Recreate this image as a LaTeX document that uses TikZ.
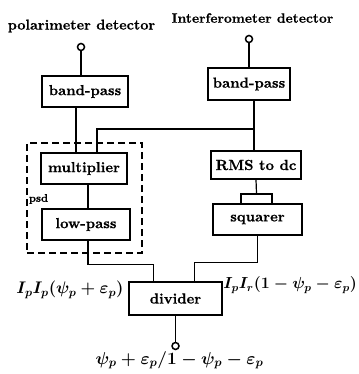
\RequirePackage{fix-cm}
\documentclass[tikz,border=0pt]{standalone}
\usepackage{amsmath,bm}
\usepackage{fontspec}
\setmainfont{lmroman10-regular}[Extension=.otf,BoldFont=lmroman10-bold,
  ItalicFont=lmroman10-italic,BoldItalicFont=lmroman10-bolditalic,
  BoldFeatures={FakeBold=0.6}]
\begin{document}
\begin{tikzpicture}[x=1pt,y=-1pt,
  blk/.style={draw,line width=1.6pt,minimum height=31pt,inner sep=0pt,
    font=\fontsize{14.6}{16}\selectfont\bfseries},
  wire/.style={line width=1.2pt},
  term/.style={circle,draw,line width=1.5pt,fill=white,inner sep=0pt,minimum size=7pt},
  lbl/.style={inner sep=0pt,font=\fontsize{14.2}{16}\selectfont\bfseries},
  mlbl/.style={inner sep=0pt,font=\fontsize{17.3}{19}\selectfont\boldmath}]
\useasboundingbox (0,0) rectangle (358,374);

% signal processing blocks
\node[blk,minimum width=86pt] (bpL) at (85,91.5) {band-pass};
\node[blk,minimum width=82pt,minimum height=32pt] (bpR) at (249,84) {band-pass};
\node[blk,minimum width=86pt] (mult) at (84,168.5) {multiplier};
\node[blk,minimum width=88pt] (lp) at (86,224.5) {low-pass};
\node[blk,minimum width=90pt,minimum height=28pt] (rms) at (256,165) {RMS to dc};
\node[draw,line width=1.5pt,minimum width=31pt,minimum height=10pt,inner sep=0pt] (tab) at (256.5,199) {};
\node[blk,minimum width=89pt] (sq) at (257.5,219.5) {squarer};
\node[blk,minimum width=93pt,minimum height=33pt] (div) at (175.5,298.5) {divider};

% phase-sensitive detector outline
\node[draw,dashed,dash pattern=on 7pt off 4pt,line width=1.5pt,minimum width=115pt,
  minimum height=110pt,inner sep=0pt] (psdbox) at (84.5,198) {};
\node[inner sep=0pt,font=\fontsize{11}{13}\selectfont\bfseries] (psd) at (38.5,199) {psd};

% input and output terminals
\node[term] (cL) at (81,47) {};
\node[term] (cR) at (249,39) {};
\node[term] (cO) at (175.5,346) {};

% texts
\node[lbl] (tL) at (81.5,26) {polarimeter detector};
\node[lbl,font=\fontsize{13.6}{16}\selectfont\bfseries] (tR) at (252.5,18) {Interferometer detector};
\node[mlbl,font=\fontsize{16.8}{19}\selectfont\boldmath] (eqL) at (70,290) {$I_pI_p(\psi_p+\varepsilon_p)$};
\node[mlbl,anchor=east,font=\fontsize{16}{18}\selectfont\boldmath] (eqR) at (357,285) {$I_pI_r(1-\psi_p-\varepsilon_p)$};
\node[mlbl] (eqO) at (179.5,360) {$\psi_p+\varepsilon_p/1-\psi_p-\varepsilon_p$};

% connections
\coordinate (br) at (254,129);
\draw[wire] (cL) -- (cL |- bpL.north);
\draw[wire] (cR) -- (cR |- bpR.north);
\draw[wire] ([xshift=-9pt]bpL.south) -- ([xshift=-9pt]bpL.south |- mult.north);
\draw[wire] ([xshift=5pt]bpR.south) -- ([xshift=5pt]bpR.south |- rms.north);
\draw[wire] (br) -| ([xshift=13pt]mult.north);
\draw[wire] ([xshift=4pt]mult.south) -- ([xshift=4pt]mult.south |- lp.north);
\draw[wire] (rms.south) -- (tab.north);
\draw[wire] ([xshift=2pt]lp.south) -- ++(0,24) -| ([xshift=-22pt]div.north);
\draw[wire] (sq.south) -- ++(0,27) -| ([xshift=19pt]div.north);
\draw[wire] (div.south) -- (cO);
\end{tikzpicture}
\end{document}
